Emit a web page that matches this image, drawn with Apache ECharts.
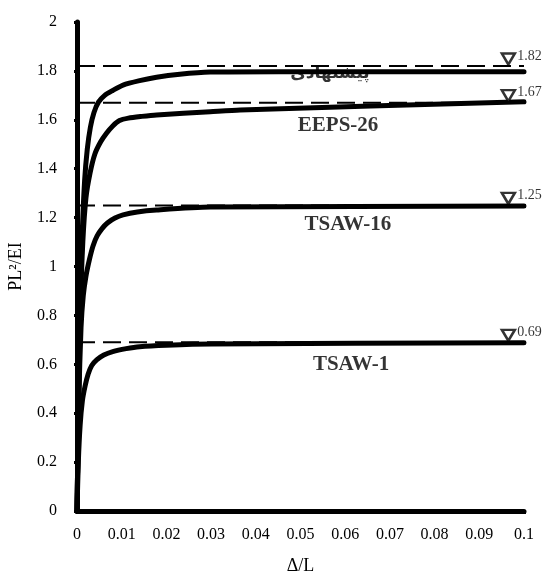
<!DOCTYPE html>
<html><head><meta charset="utf-8">
<script src="https://cdn.jsdelivr.net/npm/echarts@6/dist/echarts.min.js"></script>
<style>html,body{margin:0;padding:0;background:#fff}#c{width:544px;height:577px}</style>
</head><body><div id="c"></div>
<script>
// curve data [Δ/L, PL²/EI]
const curvePersian = [[0,0],[0.0004,0.5],[0.0008,0.9],[0.0012,1.15],[0.0017,1.35],[0.0023,1.48],[0.003,1.57],[0.0038,1.63],[0.0048,1.672],[0.0062,1.7],[0.008,1.72],[0.0103,1.742],[0.014,1.76],[0.0178,1.774],[0.023,1.786],[0.0298,1.795],[0.045,1.797],[0.1,1.797]];
const curveEEPS26 = [[0,0],[0.0004,0.5],[0.0008,0.85],[0.0013,1.1],[0.002,1.28],[0.0029,1.38],[0.004,1.46],[0.0053,1.51],[0.0066,1.545],[0.008,1.575],[0.0095,1.597],[0.0115,1.607],[0.0145,1.614],[0.0178,1.62],[0.0298,1.633],[0.0365,1.64],[0.1,1.674]];
const curveTSAW16 = [[0,0],[0.0004,0.45],[0.0009,0.75],[0.0014,0.88],[0.002,0.96],[0.0028,1.03],[0.0036,1.085],[0.0045,1.125],[0.0056,1.155],[0.0068,1.178],[0.0085,1.198],[0.0103,1.211],[0.0135,1.223],[0.0178,1.231],[0.0298,1.243],[0.1,1.247]];
const curveTSAW1 = [[0,0],[0.0003,0.2],[0.0007,0.35],[0.0012,0.45],[0.0018,0.51],[0.0025,0.56],[0.0033,0.595],[0.0044,0.618],[0.006,0.638],[0.008,0.652],[0.011,0.664],[0.014,0.672],[0.02,0.678],[0.03,0.683],[0.1,0.688]];
// limit levels
const limitLevels = [1.82, 1.67, 1.25, 0.69];
const limitMarkerX = 0.0965;
// curve labels
const labelNames = ['پیشنهادی', 'EEPS-26', 'TSAW-16', 'TSAW-1'];
const labelX = [0.0566, 0.0584, 0.0606, 0.0613];
const labelY = [1.79, 1.575, 1.17, 0.60];
const labelSizes = [17, 21, 21, 21];

const serif = 'Liberation Serif, Times New Roman, serif';
const chart = echarts.init(document.getElementById('c'));
const series = [];
// dashed limit lines
limitLevels.forEach(v => {
  series.push({type:'line', data:[[0,v],[0.1,v]], symbol:'none', silent:true, z:2,
    lineStyle:{color:'#000', width:2, type:[18,8]}});
});
// labels (below the curves)
series.push({type:'scatter', symbolSize:0, z:1, silent:true,
  data: labelNames.map((n,i)=>({value:[labelX[i],labelY[i]], name:n,
    label:{fontSize:labelSizes[i]}})),
  label:{show:true, position:'inside', formatter:p=>p.name, color:'#000',
    fontFamily:'Liberation Serif, DejaVu Sans, serif', fontWeight:'bold', fontSize:21}});
// curves
[curvePersian, curveEEPS26, curveTSAW16, curveTSAW1].forEach(d => {
  series.push({type:'line', data:d, symbol:'none', smooth:0.25, z:3, silent:true,
    lineStyle:{color:'#000', width:5, join:'round', cap:'round'}});
});
// triangle markers
series.push({type:'scatter', z:4, silent:true,
  data: limitLevels.map(v=>[limitMarkerX, v]),
  symbol:'triangle', symbolRotate:180, symbolSize:[13,11], symbolOffset:[0,-7],
  itemStyle:{color:'#fff', borderColor:'#000', borderWidth:2.5},
  label:{show:true, position:'right', distance:1, offset:[0,-3], formatter:p=>p.value[1].toFixed(2),
    fontFamily:serif, fontSize:14, color:'#000'}});

chart.setOption({
  animation:false,
  grid:{left:77, right:20, top:22, bottom:66, containLabel:false, outerBoundsMode:'none'},
  xAxis:{type:'value', min:0, max:0.1, interval:0.01,
    name:'Δ/L', nameLocation:'middle', nameGap:46,
    nameTextStyle:{fontFamily:serif, fontSize:18, color:'#000'},
    axisLine:{lineStyle:{color:'#000', width:5}},
    axisTick:{show:true, length:3, lineStyle:{color:'#000', width:3}},
    axisLabel:{fontFamily:serif, fontSize:16, color:'#000', margin:16,
      formatter:v=>String(Math.round(v*100)/100)},
    splitLine:{show:false}},
  yAxis:{type:'value', min:0, max:2, interval:0.2,
    name:'PL²/EI', nameLocation:'middle', nameGap:52, nameRotate:90,
    nameTextStyle:{fontFamily:serif, fontSize:18, color:'#000'},
    axisLine:{show:true, lineStyle:{color:'#000', width:5}},
    axisTick:{show:true, length:3, lineStyle:{color:'#000', width:3}},
    axisLabel:{fontFamily:serif, fontSize:16, color:'#000', margin:20,
      formatter:v=>String(Math.round(v*10)/10)},
    splitLine:{show:false}},
  series
});
</script></body></html>
